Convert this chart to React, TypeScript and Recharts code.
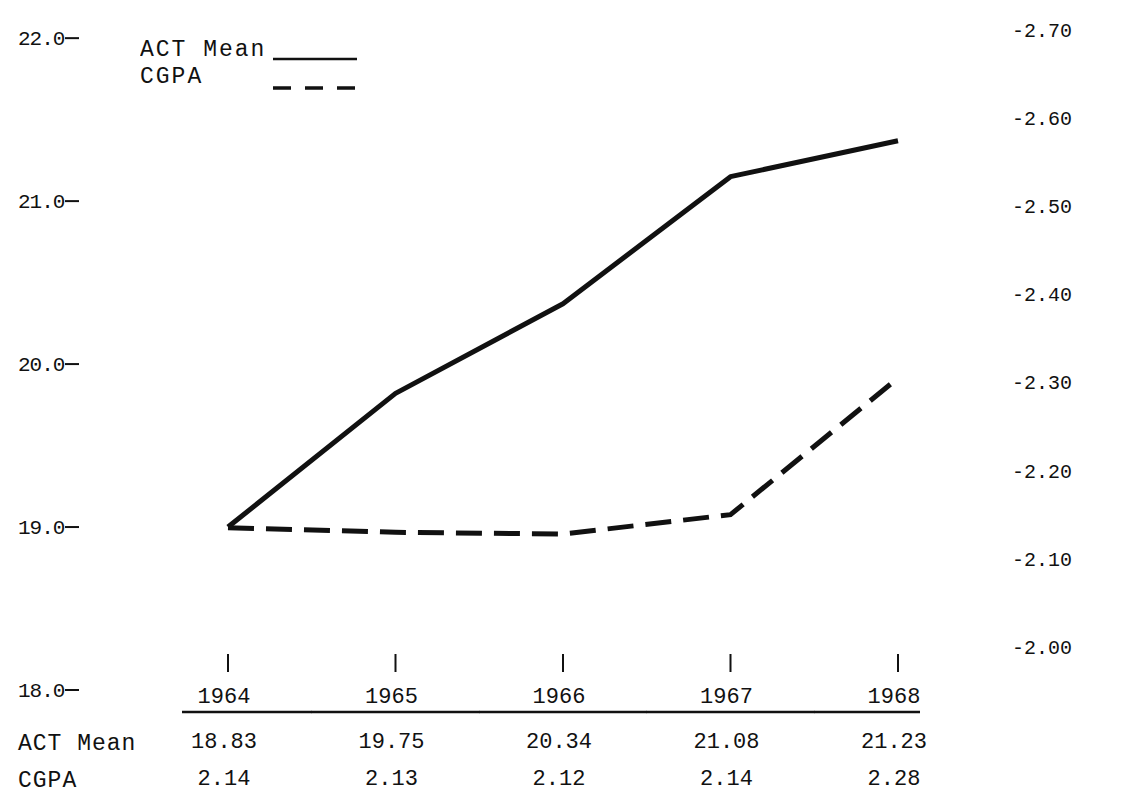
import React from 'react';
import { LineChart, Line, XAxis, YAxis, Legend } from 'recharts';

const years = [1964, 1965, 1966, 1967, 1968];
// where the drawn lines sit
const actPlotted = [19.0, 19.82, 20.37, 21.15, 21.37];
const cgpaPlotted = [2.135, 2.13, 2.128, 2.15, 2.305];
// numbers typed in the table under the plot
const actTable = ['18.83', '19.75', '20.34', '21.08', '21.23'];
const cgpaTable = ['2.14', '2.13', '2.12', '2.14', '2.28'];
const leftTicks = [18, 19, 20, 21, 22];
const rightTicks = [2.0, 2.1, 2.2, 2.3, 2.4, 2.5, 2.6, 2.7];

const data = years.map((year, i) => ({ year, act: actPlotted[i], cgpa: cgpaPlotted[i] }));

const FONT = '"Liberation Mono", "DejaVu Sans Mono", monospace';
const INK = '#111';

const LeftTick = ({ y, payload }: any) => (
  <g>
    <text x={18} y={y} dy={7} fontFamily={FONT} fontSize={21} letterSpacing={-1} fill={INK}>
      {payload.value.toFixed(1)}
    </text>
    <line x1={65} x2={79} y1={y} y2={y} stroke={INK} strokeWidth={2} />
  </g>
);

const RightTick = ({ y, payload }: any) => (
  <text x={1012} y={y} dy={7} fontFamily={FONT} fontSize={20} fill={INK}>
    {'-' + payload.value.toFixed(2)}
  </text>
);

const YearTick = ({ x, payload }: any) => {
  const i = years.indexOf(payload.value);
  const last = i === years.length - 1;
  return (
    <g fontFamily={FONT} fill={INK}>
      <line x1={x} x2={x} y1={654} y2={672} stroke={INK} strokeWidth={2} />
      <text x={x - 4} y={703} textAnchor="middle" fontSize={22}>{payload.value}</text>
      <line x1={i === 0 ? x - 46 : x - 84} x2={last ? x + 22 : x + 84} y1={712} y2={712} stroke={INK} strokeWidth={2.5} />
      <text x={x - 4} y={748} textAnchor="middle" fontSize={22}>{actTable[i]}</text>
      <text x={x - 4} y={785} textAnchor="middle" fontSize={22}>{cgpaTable[i]}</text>
      {i === 0 && (
        <>
          <text x={18} y={750} fontSize={23} letterSpacing={1}>ACT Mean</text>
          <text x={18} y={787} fontSize={23} letterSpacing={1}>CGPA</text>
        </>
      )}
    </g>
  );
};

const LegendBox = ({ payload }: any) => {
  const items = payload || [];
  return (
    <svg width={230} height={60} style={{ display: 'block' }}>
      {items.map((p: any, i: number) => (
        <g key={p.value}>
          <text x={0} y={20 + i * 27} fontFamily={FONT} fontSize={23} letterSpacing={2} fill={INK}>{p.value}</text>
          <line
            x1={133}
            x2={217}
            y1={i === 0 ? 23 : 52}
            y2={i === 0 ? 23 : 52}
            stroke={INK}
            strokeWidth={i === 0 ? 2.5 : 3.5}
            strokeDasharray={p.payload && p.payload.strokeDasharray ? '18 14' : undefined}
          />
        </g>
      ))}
    </svg>
  );
};

export default function App() {
  return (
    <div style={{ position: 'absolute', left: 0, top: 0, width: 1132, height: 797, background: '#fff' }}>
      <LineChart width={1132} height={797} data={data} margin={{ top: 30, right: 0, bottom: 0, left: 0 }}>
        <XAxis
          dataKey="year"
          type="number"
          domain={[1964, 1968]}
          ticks={years}
          interval={0}
          height={107}
          axisLine={false}
          tickLine={false}
          tick={<YearTick />}
        />
        <YAxis
          yAxisId="left"
          orientation="left"
          width={228}
          domain={[18, 22.05]}
          allowDataOverflow
          ticks={leftTicks}
          interval={0}
          axisLine={false}
          tickLine={false}
          tick={<LeftTick />}
        />
        <YAxis
          yAxisId="right"
          orientation="right"
          width={234}
          domain={[1.951, 2.7]}
          allowDataOverflow
          ticks={rightTicks}
          interval={0}
          axisLine={false}
          tickLine={false}
          tick={<RightTick />}
        />
        <Legend
          layout="vertical"
          align="center"
          verticalAlign="middle"
          wrapperStyle={{ left: 140, top: 36, width: 'auto' }}
          content={<LegendBox />}
        />
        <Line
          yAxisId="left"
          type="linear"
          dataKey="act"
          name="ACT Mean"
          stroke={INK}
          strokeWidth={5}
          strokeLinejoin="round"
          dot={false}
          isAnimationActive={false}
        />
        <Line
          yAxisId="right"
          type="linear"
          dataKey="cgpa"
          name="CGPA"
          stroke={INK}
          strokeWidth={5}
          strokeDasharray="26 12"
          dot={false}
          isAnimationActive={false}
        />
      </LineChart>
    </div>
  );
}
